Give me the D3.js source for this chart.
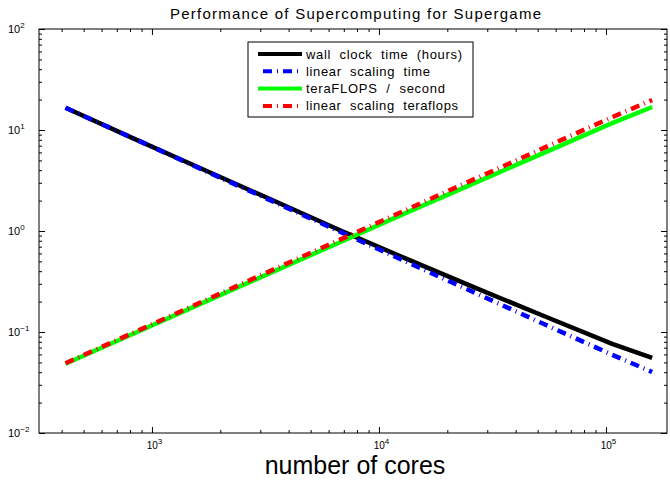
<!DOCTYPE html>
<meta charset="utf-8">
<head>
<script src="https://d3js.org/d3.v7.min.js"></script>
<style>
    body { margin: 0; background: #fff; }
    svg { font-family: "Liberation Sans", Arial, sans-serif; }
</style>
</head>
<body>
<svg id="chart" width="670" height="480"></svg>
<script>
    // values
    var cores       = [416, 832, 1664, 3328, 6656, 13312, 26624, 53248, 106496, 159744];
    var wallClock   = [16.6, 8.22, 4.11, 2.06, 1.03, 0.526, 0.273, 0.144, 0.0764, 0.0553];
    var linearTime  = [16.6, 8.22, 4.06, 2.01, 0.993, 0.491, 0.243, 0.120, 0.0595, 0.0402];
    var teraflops   = [0.0485, 0.0967, 0.193, 0.385, 0.766, 1.528, 3.01, 5.93, 11.7, 16.9];
    var linearFlops = [0.0491, 0.0989, 0.1995, 0.403, 0.811, 1.636, 3.30, 6.65, 13.4, 19.8];
    var seriesNames = ["wall  clock  time  (hours)", "linear  scaling  time", "teraFLOPS  /  second", "linear  scaling  teraflops"];
    var xDomain = [318, 185700];
    var yDomain = [0.01, 100];
    var xMajor = [1e3, 1e4, 1e5];
    var yMajor = [1e-2, 1e-1, 1e0, 1e1, 1e2];

    var svg = d3.select("#chart");
    var mLeft = 39, mRight = 667, mTop = 29, mBottom = 433;

    var x = d3.scaleLog().domain(xDomain).range([mLeft, mRight]);
    var y = d3.scaleLog().domain(yDomain).range([mBottom, mTop]);

    var isPow = function(v){ return Math.abs(Math.log10(v) - Math.round(Math.log10(v))) < 1e-9; };
    var xMinor = x.ticks().filter(function(v){ return !isPow(v); });
    var yMinor = y.ticks().filter(function(v){ return !isPow(v); });

    // ticks on all four sides, pointing inward
    function addAxis(axis, tr){
        var g = svg.append("g").attr("transform", tr).call(axis);
        g.select(".domain").remove();
        g.selectAll("line").attr("stroke", "#000").attr("stroke-width", 1);
        return g;
    }
    addAxis(d3.axisBottom(x).tickValues(xMinor).tickSize(-3).tickFormat(""), "translate(0," + mBottom + ")");
    addAxis(d3.axisTop(x).tickValues(xMinor).tickSize(-3).tickFormat(""), "translate(0," + mTop + ")");
    addAxis(d3.axisTop(x).tickValues(xMajor).tickSize(-6).tickFormat(""), "translate(0," + mTop + ")");
    addAxis(d3.axisLeft(y).tickValues(yMinor).tickSize(-3).tickFormat(""), "translate(" + mLeft + ",0)");
    addAxis(d3.axisRight(y).tickValues(yMinor).tickSize(-3).tickFormat(""), "translate(" + mRight + ",0)");
    addAxis(d3.axisRight(y).tickValues(yMajor).tickSize(-6).tickFormat(""), "translate(" + mRight + ",0)");

    var xg = addAxis(d3.axisBottom(x).tickValues(xMajor).tickSize(-6).tickPadding(9), "translate(0," + mBottom + ")");
    var yg = addAxis(d3.axisLeft(y).tickValues(yMajor).tickSize(-6).tickPadding(0), "translate(" + mLeft + ",0)");

    function powLabel(sel){
        sel.each(function(d){
            var t = d3.select(this).text("").attr("fill", "#000");
            var e = Math.round(Math.log10(d));
            t.append("tspan").text("10");
            t.append("tspan").attr("dy", -5).attr("font-size", 8)
                .text(e < 0 ? "\u2212" + (-e) : e);
        });
    }
    xg.selectAll("text").attr("font-size", 10).attr("font-family", "Liberation Sans, Arial")
        .attr("dx", 2).call(powLabel);
    yg.selectAll("text").attr("font-size", 11).attr("font-family", "Liberation Sans, Arial")
        .attr("text-anchor", "start").attr("x", -31).attr("dy", "0.35em").call(powLabel);

    svg.append("rect").attr("x", mLeft).attr("y", mTop)
        .attr("width", mRight - mLeft).attr("height", mBottom - mTop)
        .attr("fill", "none").attr("stroke", "#000").attr("stroke-width", 1);

    var series = [
        {name: seriesNames[0], vals: wallClock,   color: "#000000", dash: null},
        {name: seriesNames[1], vals: linearTime,  color: "#0000ff", dash: "9,5,1,5"},
        {name: seriesNames[2], vals: teraflops,   color: "#00ff00", dash: null},
        {name: seriesNames[3], vals: linearFlops, color: "#ff0000", dash: "9,5,1,5"}
    ];

    var line = d3.line().x(function(d){ return x(d[0]); }).y(function(d){ return y(d[1]); });

    series.forEach(function(s){
        svg.append("path")
            .datum(cores.map(function(c, i){ return [c, s.vals[i]]; }))
            .attr("d", line)
            .attr("fill", "none")
            .attr("stroke", s.color)
            .attr("stroke-width", 4.5)
            .attr("stroke-linejoin", "round")
            .attr("stroke-dasharray", s.dash);
    });

    // legend
    var legend = svg.append("g");
    legend.append("rect").attr("x", 248).attr("y", 42).attr("width", 225).attr("height", 75)
        .attr("fill", "#fff").attr("stroke", "#000").attr("stroke-width", 1);
    var textLen = [156, 124, 139, 152];
    series.forEach(function(s, i){
        var ly = 54 + i * 17.3;
        legend.append("line").attr("x1", 258).attr("x2", 302).attr("y1", ly).attr("y2", ly)
            .attr("stroke", s.color).attr("stroke-width", 4)
            .attr("stroke-dasharray", s.dash).attr("stroke-dashoffset", s.dash ? 15 : 0);
        legend.append("text").attr("x", 306).attr("y", ly + 4.5)
            .attr("font-size", 13).attr("xml:space", "preserve")
            .style("white-space", "pre")
            .attr("textLength", textLen[i]).attr("lengthAdjust", "spacing")
            .text(s.name);
    });

    svg.append("text").attr("x", 170).attr("y", 19).attr("font-size", 15)
        .attr("textLength", 371).attr("lengthAdjust", "spacing")
        .text("Performance of Supercomputing for Supergame");

    svg.append("text").attr("x", 355).attr("y", 474).attr("text-anchor", "middle")
        .attr("font-size", 25).text("number of cores");
</script>
</body>
